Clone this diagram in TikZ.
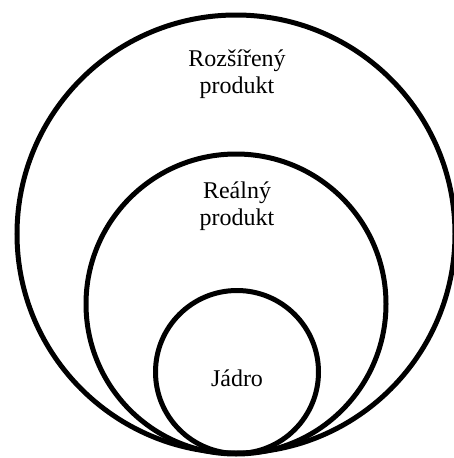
\documentclass[tikz,border=0pt]{standalone}
\usepackage{fontspec}
\setmainfont{Liberation Serif}
\usepackage{tikz}
\definecolor{ringblack}{RGB}{0,0,0}

\begin{document}
\begin{tikzpicture}[x=1pt,y=-1pt,
  ring/.style={draw=ringblack,circle,line width=5pt,inner sep=0pt},
  ringlabel/.style={align=center,inner sep=0pt,font=\fontsize{24}{27.5}\selectfont}]
\useasboundingbox (0,0) rectangle (454,458);
\node[ring,minimum size=438pt] (outer) at (236,234) {};
\node[ring,minimum size=300pt] (real) at (236,304) {};
\node[ring,minimum size=163pt] (core) at (237,372) {};
\node[ringlabel] (outertext) at (237,74) {Rozšířený\\produkt};
\node[ringlabel] (realtext) at (237,206) {Reálný\\produkt};
\node[ringlabel,anchor=base] (coretext) at (237,386) {Jádro};
\end{tikzpicture}
\end{document}
